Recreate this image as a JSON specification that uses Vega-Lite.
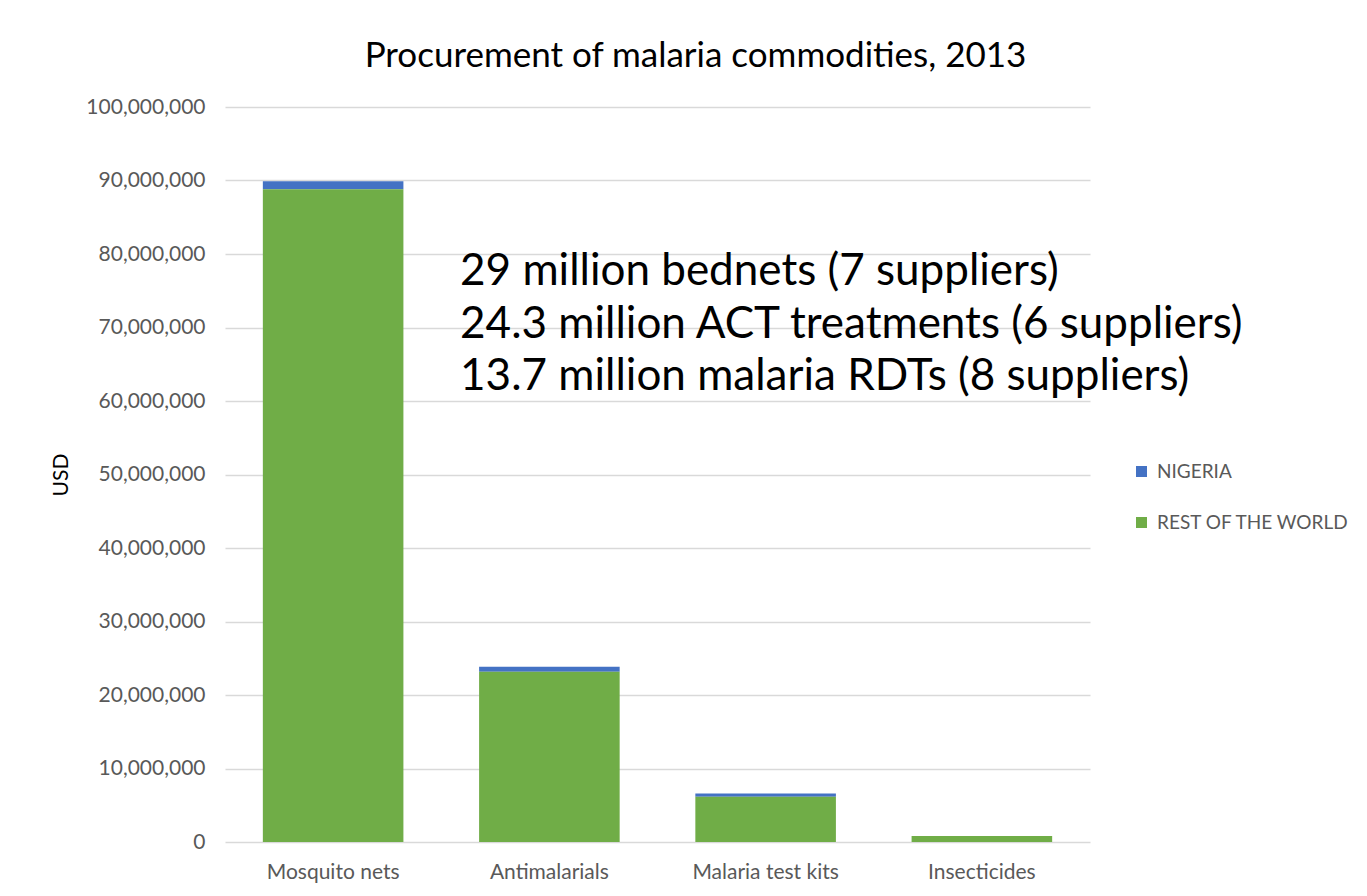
{
  "$schema": "https://vega.github.io/schema/vega-lite/v6.json",
  "autosize": {"type": "none"},
  "width": 865,
  "height": 735,
  "padding": {"left": 225, "top": 107, "right": 277, "bottom": 54},
  "background": "white",
  "config": {
    "view": {"stroke": null},
    "font": "Lato"
  },
  "title": {
    "text": "Procurement of malaria commodities, 2013",
    "frame": "group",
    "anchor": "middle",
    "dx": 38,
    "offset": 22,
    "fontSize": 35,
    "font": "Lato",
    "fontWeight": "normal",
    "color": "#000000"
  },
  "datasets": {
    "bars": [
      {"commodity": "Mosquito nets", "region": "NIGERIA", "usd": 1100000},
      {"commodity": "Mosquito nets", "region": "REST OF THE WORLD", "usd": 88800000},
      {"commodity": "Antimalarials", "region": "NIGERIA", "usd": 680000},
      {"commodity": "Antimalarials", "region": "REST OF THE WORLD", "usd": 23170000},
      {"commodity": "Malaria test kits", "region": "NIGERIA", "usd": 450000},
      {"commodity": "Malaria test kits", "region": "REST OF THE WORLD", "usd": 6160000},
      {"commodity": "Insecticides", "region": "NIGERIA", "usd": 20000},
      {"commodity": "Insecticides", "region": "REST OF THE WORLD", "usd": 800000}
    ],
    "notes": [
      {"commodity": "Antimalarials", "usd": 75800000, "note": "29 million bednets (7 suppliers)"},
      {"commodity": "Antimalarials", "usd": 68600000, "note": "24.3 million ACT treatments (6 suppliers)"},
      {"commodity": "Antimalarials", "usd": 61500000, "note": "13.7 million malaria RDTs (8 suppliers)"}
    ]
  },
  "layer": [
    {
      "data": {"name": "bars"},
      "mark": {"type": "bar"},
      "encoding": {
        "x": {
          "field": "commodity",
          "type": "nominal",
          "sort": ["Mosquito nets", "Antimalarials", "Malaria test kits", "Insecticides"],
          "scale": {"paddingInner": 0.35, "paddingOuter": 0.175},
          "axis": {
            "title": null,
            "labelAngle": 0,
            "labelFontSize": 21,
            "labelColor": "#595959",
            "labelPadding": 19,
            "ticks": false,
            "domain": false
          }
        },
        "y": {
          "field": "usd",
          "type": "quantitative",
          "stack": "zero",
          "scale": {"domain": [0, 100000000], "nice": false},
          "axis": {
            "title": "USD",
            "titleFontSize": 21,
            "titleFontWeight": "normal",
            "titleColor": "#000000",
            "titlePadding": 14,
            "format": ",.0f",
            "values": [0, 10000000, 20000000, 30000000, 40000000, 50000000, 60000000, 70000000, 80000000, 90000000, 100000000],
            "labelOverlap": false,
            "labelFontSize": 21,
            "labelColor": "#595959",
            "labelPadding": 20,
            "ticks": false,
            "domain": false,
            "gridColor": "#d9d9d9",
            "gridWidth": 1.5
          }
        },
        "color": {
          "field": "region",
          "type": "nominal",
          "scale": {"domain": ["NIGERIA", "REST OF THE WORLD"], "range": ["#4472C4", "#70AD47"]},
          "legend": {
            "title": null,
            "orient": "none",
            "legendX": 907,
            "legendY": 355,
            "padding": 0,
            "symbolType": "square",
            "symbolSize": 121,
            "symbolStrokeWidth": 0,
            "labelFontSize": 19,
            "labelLimit": 0,
            "labelColor": "#595959",
            "labelOffset": 6,
            "rowPadding": 31
          }
        },
        "order": {"field": "region", "sort": "descending"}
      }
    },
    {
      "data": {"name": "notes"},
      "mark": {"type": "text", "align": "left", "baseline": "alphabetic", "fontSize": 44, "font": "Lato", "color": "#000000", "dx": -19},
      "encoding": {
        "x": {"field": "commodity", "type": "nominal", "bandPosition": 0, "sort": ["Mosquito nets", "Antimalarials", "Malaria test kits", "Insecticides"]},
        "y": {"field": "usd", "type": "quantitative"},
        "text": {"field": "note"}
      }
    }
  ]
}
